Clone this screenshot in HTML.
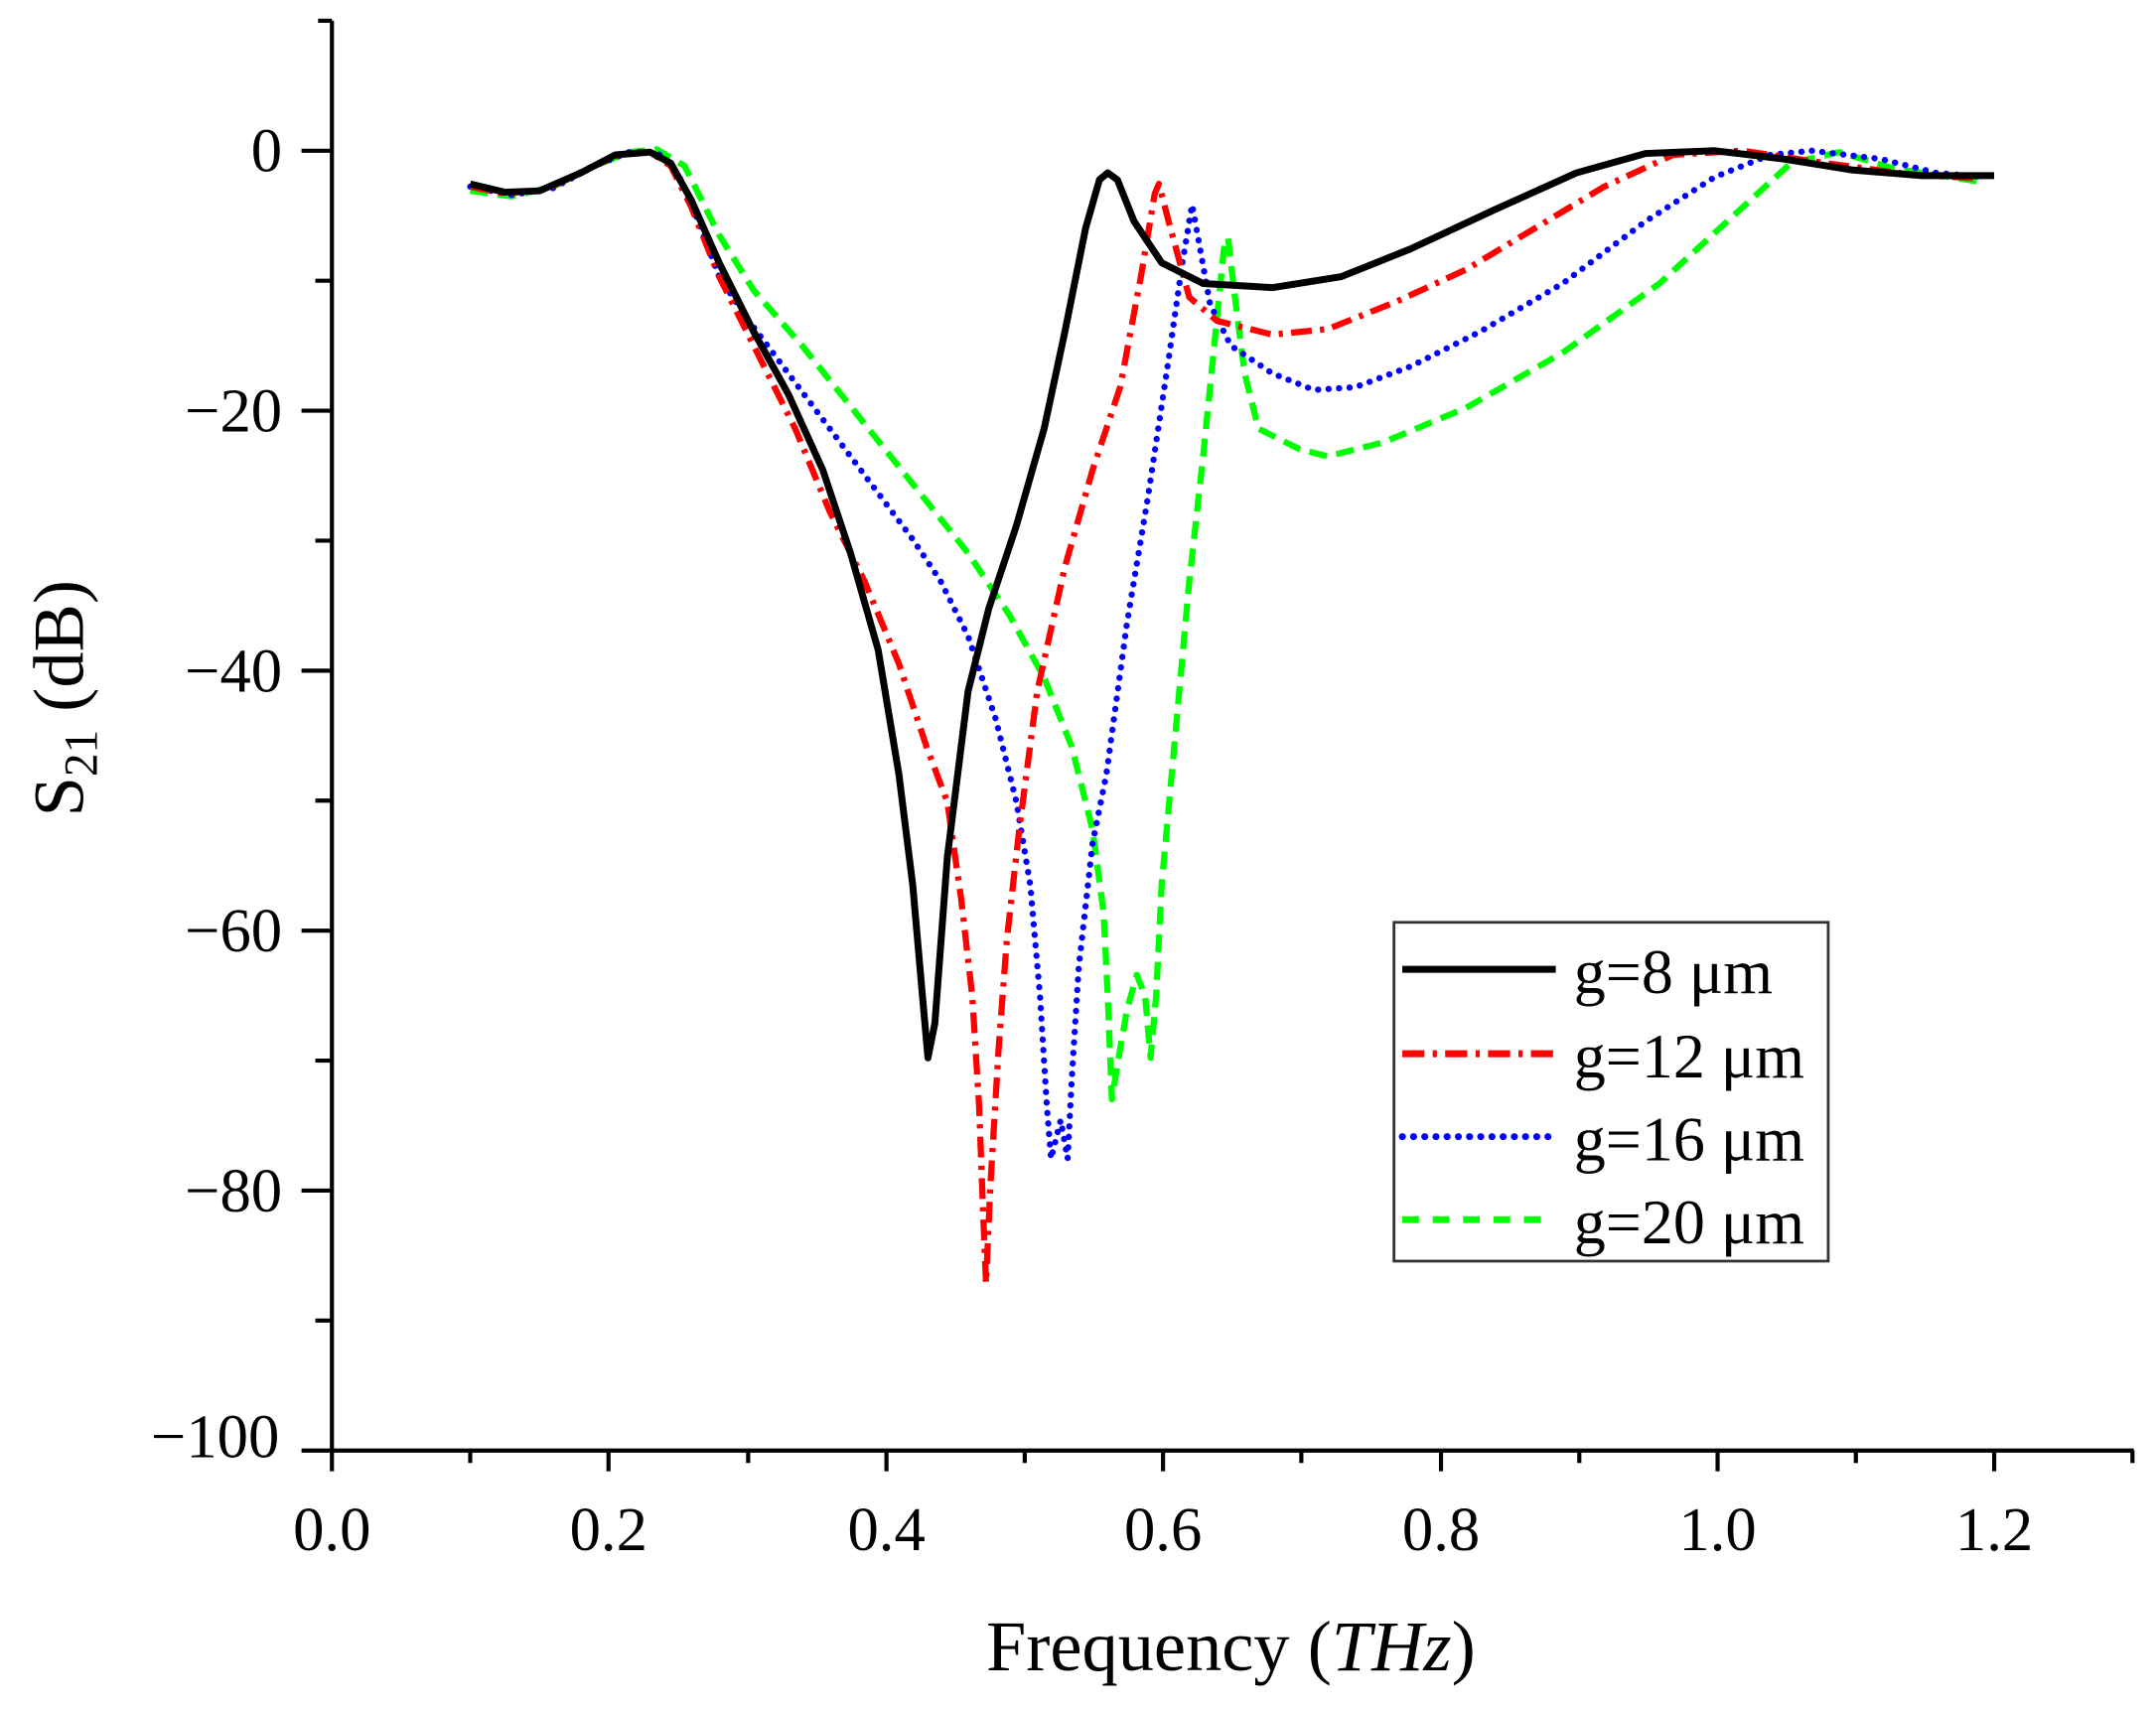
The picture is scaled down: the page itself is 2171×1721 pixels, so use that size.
<!DOCTYPE html>
<html><head><meta charset="utf-8"><style>html,body{margin:0;padding:0;background:#fff}svg{display:block}</style></head>
<body>
<svg width="2171" height="1721" viewBox="0 0 1559 1235.9" xmlns="http://www.w3.org/2000/svg" font-family="'Liberation Serif', serif">
<rect x="0" y="0" width="1559" height="1236" fill="#fff"/>
<g stroke="#000" stroke-width="3" fill="none">
<line x1="240" y1="15" x2="240" y2="1050"/>
<line x1="218" y1="1049" x2="1543" y2="1049"/>
<line x1="230" y1="15" x2="240" y2="15"/>
<line x1="218" y1="109" x2="240" y2="109"/>
<line x1="228" y1="203" x2="240" y2="203"/>
<line x1="218" y1="297" x2="240" y2="297"/>
<line x1="228" y1="391" x2="240" y2="391"/>
<line x1="218" y1="485" x2="240" y2="485"/>
<line x1="228" y1="579" x2="240" y2="579"/>
<line x1="218" y1="673" x2="240" y2="673"/>
<line x1="228" y1="767" x2="240" y2="767"/>
<line x1="218" y1="861" x2="240" y2="861"/>
<line x1="228" y1="955" x2="240" y2="955"/>
<line x1="240" y1="1049" x2="240" y2="1064"/>
<line x1="340" y1="1049" x2="340" y2="1058"/>
<line x1="440" y1="1049" x2="440" y2="1064"/>
<line x1="541" y1="1049" x2="541" y2="1058"/>
<line x1="641" y1="1049" x2="641" y2="1064"/>
<line x1="741" y1="1049" x2="741" y2="1058"/>
<line x1="841" y1="1049" x2="841" y2="1064"/>
<line x1="941" y1="1049" x2="941" y2="1058"/>
<line x1="1042" y1="1049" x2="1042" y2="1064"/>
<line x1="1142" y1="1049" x2="1142" y2="1058"/>
<line x1="1242" y1="1049" x2="1242" y2="1064"/>
<line x1="1342" y1="1049" x2="1342" y2="1058"/>
<line x1="1442" y1="1049" x2="1442" y2="1064"/>
<line x1="1542" y1="1049" x2="1542" y2="1058"/>
</g>
<g font-size="45" fill="#000" text-anchor="end">
<text x="204" y="124">0</text>
<text x="204" y="312">−20</text>
<text x="204" y="500">−40</text>
<text x="204" y="688">−60</text>
<text x="204" y="876">−80</text>
<text x="202" y="1054">−100</text>
</g>
<g font-size="45" fill="#000" text-anchor="middle">
<text x="240" y="1121">0.0</text>
<text x="440" y="1121">0.2</text>
<text x="641" y="1121">0.4</text>
<text x="841" y="1121">0.6</text>
<text x="1042" y="1121">0.8</text>
<text x="1242" y="1121">1.0</text>
<text x="1442" y="1121">1.2</text>
</g>
<text x="890" y="1208" font-size="52" text-anchor="middle">Frequency (<tspan font-style="italic">THz</tspan>)</text>
<text transform="translate(60,505) rotate(-90)" font-size="52" text-anchor="middle">S<tspan font-size="34" dy="10">21</tspan><tspan dy="-10"> (dB)</tspan></text>

<g fill="none" stroke-linejoin="round">
<polyline stroke="#00ff00" stroke-width="4.5" stroke-dasharray="13 7" points="340,138 370,142 400,135 430,120 455,110 475,108 495,120 520,170 545,210 580,250 620,300 660,350 700,400 730,445 755,490 775,540 790,600 798,660 801,720 804,795 808,770 815,730 822,705 828,720 832,765 836,720 840,640 850,530 860,420 870,330 878,250 885,180 888,172 893,215 900,270 910,310 940,325 960,330 1000,320 1060,295 1130,255 1200,205 1260,150 1295,118 1330,110 1370,122 1410,128 1435,132"/>
<polyline stroke="#0000ff" stroke-width="4.5" stroke-linecap="round" stroke-dasharray="0.1 7.5" points="340,135 370,141 400,136 430,120 455,110 475,110 490,125 505,160 520,200 540,230 570,270 600,310 630,350 660,390 680,420 700,460 720,520 735,580 745,640 752,720 757,800 760,838 767,810 772,838 775,780 780,700 790,610 800,560 815,450 830,360 845,260 855,190 862,148 866,170 875,220 890,250 920,270 950,282 980,280 1020,265 1070,240 1130,205 1190,160 1240,128 1280,112 1310,109 1360,115 1400,125 1435,128"/>
<polyline stroke="#ff0000" stroke-width="4.5" stroke-dasharray="15 6 3 6" points="340,135 365,140 395,137 425,122 448,112 470,110 485,120 500,150 520,200 545,250 575,310 600,370 625,420 650,480 670,540 685,580 695,650 703,720 708,800 711,880 713,928 716,860 722,760 728,680 737,600 750,500 770,410 790,340 810,280 825,200 835,140 838,133 845,160 860,215 880,232 920,242 960,238 1010,218 1060,195 1110,165 1160,135 1210,112 1260,109 1320,118 1380,126 1430,129"/>
<polyline stroke="#000" stroke-width="5" points="340,133 365,139 390,138 420,125 445,112 470,110 485,118 500,145 520,190 545,240 570,285 595,340 615,400 635,470 650,560 660,640 667,720 671,765 676,740 685,620 700,500 715,440 735,380 755,310 770,240 785,165 795,130 801,125 808,130 820,160 840,190 870,205 920,208 970,200 1020,180 1080,152 1140,125 1190,111 1240,109 1290,115 1340,123 1390,127 1442,127"/>
</g>

<rect x="1008" y="667" width="314" height="245" fill="#fff" stroke="#333" stroke-width="2"/>
<line x1="1014" y1="701" x2="1125" y2="701" stroke="#000" stroke-width="5"/>
<line x1="1014" y1="762" x2="1125" y2="762" stroke="#ff0000" stroke-width="5" stroke-dasharray="16 6 3 6"/>
<line x1="1014" y1="822" x2="1120" y2="822" stroke="#0000ff" stroke-width="5" stroke-linecap="round" stroke-dasharray="0.1 8"/>
<line x1="1014" y1="882" x2="1120" y2="882" stroke="#00ff00" stroke-width="5" stroke-dasharray="12 10"/>
<g font-size="46" fill="#000">
<text x="1138" y="718">g=8 μm</text>
<text x="1138" y="779">g=12 μm</text>
<text x="1138" y="839">g=16 μm</text>
<text x="1138" y="899">g=20 μm</text>
</g>
</svg>
</body></html>
